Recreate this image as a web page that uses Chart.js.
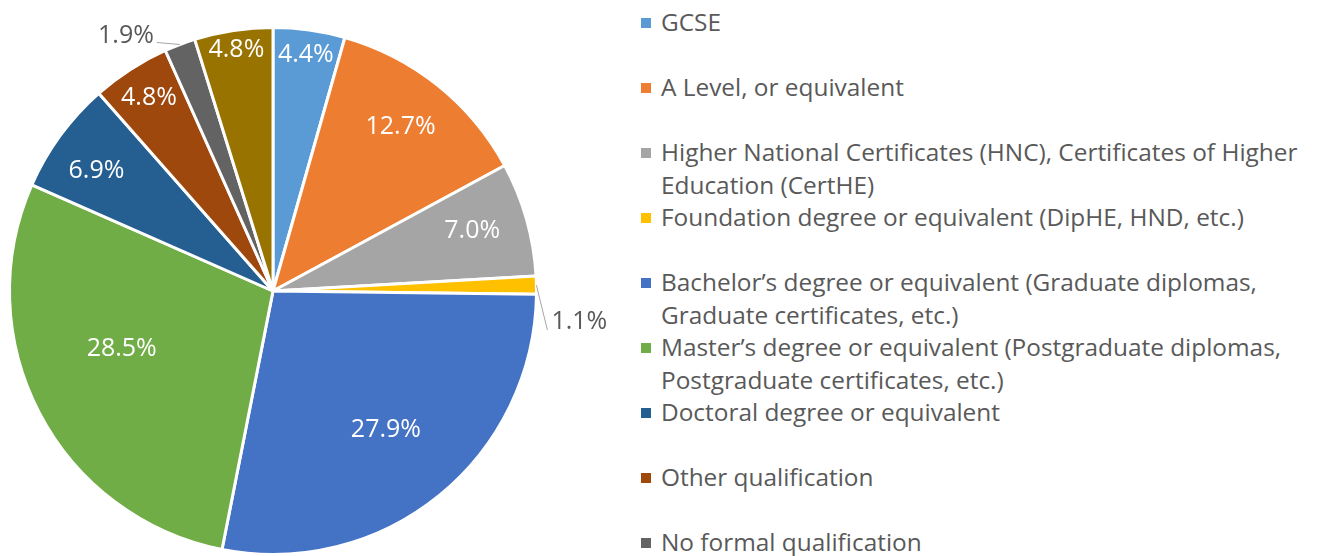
<!DOCTYPE html>
<html>
<head>
<meta charset="utf-8">
<script src="https://cdn.jsdelivr.net/npm/chart.js@4"></script>
<style>
    html, body { margin: 0; padding: 0; background: #fff; }
    body { width: 1321px; height: 556px; overflow: hidden; position: relative; font-family: 'Open Sans', sans-serif; }
    #chartBox { position: absolute; left: 0; top: 0; width: 620px; height: 556px; }
    #legend { position: absolute; left: 0; top: 0; }
    .item { position: absolute; left: 661px; color: #595959; font-size: 24.4px; line-height: 33px; white-space: nowrap; }
    .item .sw { position: absolute; left: -20px; top: 12.5px; width: 10px; height: 10px; }
</style>
</head>
<body>
<div id="chartBox"><canvas id="pieChart"></canvas></div>
<div id="legend"></div>
<script>
// Qualification categories (legend text, line breaks as in the original)
const categories = [
    'GCSE',
    'A Level, or equivalent',
    'Higher National Certificates (HNC), Certificates of Higher\nEducation (CertHE)',
    'Foundation degree or equivalent (DipHE, HND, etc.)',
    'Bachelor\u2019s degree or equivalent (Graduate diplomas,\nGraduate certificates, etc.)',
    'Master\u2019s degree or equivalent (Postgraduate diplomas,\nPostgraduate certificates, etc.)',
    'Doctoral degree or equivalent',
    'Other qualification',
    'No formal qualification',
    'Prefer not to say'
];

// Share of respondents, percent
const shares = [4.4, 12.7, 7.0, 1.1, 27.9, 28.5, 6.9, 4.8, 1.9, 4.8];

const sliceColors = ['#5B9BD5', '#ED7D31', '#A5A5A5', '#FFC000', '#4472C4',
    '#70AD47', '#255E91', '#9E480E', '#636363', '#997300'];

// Label placement: fraction of radius and position along the slice's angle (0.5 = middle)
const labelRadius = [0.905, 0.79, 0.79, null, 0.68, 0.615, 0.81, 0.87, null, 0.925];
const labelAngle = [0.5, 0.48, 0.46, 0.5, 0.5, 0.564, 0.42, 0.5, 0.5, 0.5];
// Labels placed outside with a leader line (offsets from the slice edge)
const outsideLabels = {
    3: { line: [11, 45], text: [15, 37], align: 'left' },
    8: { line: [-23, -2], text: [-26, -9], align: 'right' }
};

/**
 * Draw percentage labels on the slices
 */
const pieLabels = {
    id: 'pieLabels',
    afterDatasetsDraw(chart) {
        const ctx = chart.ctx;
        const meta = chart.getDatasetMeta(0);
        ctx.save();
        ctx.font = '25px "Open Sans", sans-serif';
        ctx.textBaseline = 'middle';
        meta.data.forEach((arc, i) => {
            const text = shares[i].toFixed(1) + '%';
            const out = outsideLabels[i];
            if (out) {
                const mid = (arc.startAngle + arc.endAngle) / 2;
                const ex = arc.x + Math.cos(mid) * arc.outerRadius;
                const ey = arc.y + Math.sin(mid) * arc.outerRadius;
                ctx.strokeStyle = '#A6A6A6';
                ctx.lineWidth = 1;
                ctx.beginPath();
                ctx.moveTo(ex, ey);
                ctx.lineTo(ex + out.line[0], ey + out.line[1]);
                ctx.stroke();
                ctx.fillStyle = '#595959';
                ctx.textAlign = out.align;
                ctx.fillText(text, ex + out.text[0], ey + out.text[1]);
            } else {
                const a = arc.startAngle + (arc.endAngle - arc.startAngle) * labelAngle[i];
                const r = arc.outerRadius * labelRadius[i];
                ctx.fillStyle = '#FFFFFF';
                ctx.textAlign = 'center';
                ctx.fillText(text, arc.x + Math.cos(a) * r, arc.y + Math.sin(a) * r);
            }
        });
        ctx.restore();
    }
};

function buildLegend() {
    const legend = document.getElementById('legend');
    categories.forEach((label, i) => {
        const item = document.createElement('div');
        item.className = 'item';
        item.style.top = (5 + 65 * i) + 'px';
        const sw = document.createElement('span');
        sw.className = 'sw';
        sw.style.background = sliceColors[i];
        item.appendChild(sw);
        label.split('\n').forEach((line, j) => {
            if (j > 0) item.appendChild(document.createElement('br'));
            item.appendChild(document.createTextNode(line));
        });
        legend.appendChild(item);
    });
}

document.addEventListener('DOMContentLoaded', function() {
    buildLegend();
    const ctx = document.getElementById('pieChart').getContext('2d');
    new Chart(ctx, {
        type: 'pie',
        data: {
            labels: categories,
            datasets: [{
                data: shares,
                backgroundColor: sliceColors,
                borderColor: '#FFFFFF',
                borderWidth: 3
            }]
        },
        options: {
            responsive: true,
            maintainAspectRatio: false,
            animation: false,
            layout: { padding: { top: 26, right: 74, left: 0, bottom: 0 } },
            plugins: {
                legend: { display: false },
                tooltip: { enabled: false }
            }
        },
        plugins: [pieLabels]
    });
});
</script>
</body>
</html>
